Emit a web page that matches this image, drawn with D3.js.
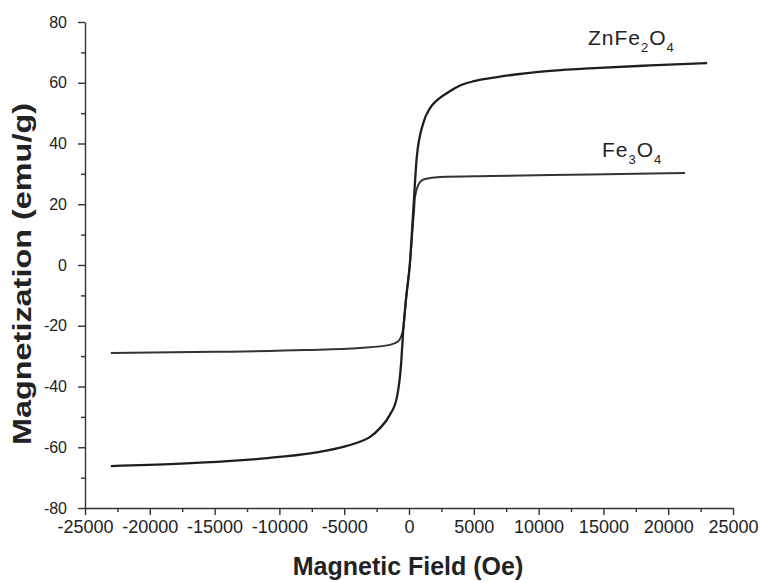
<!DOCTYPE html>
<html>
<head>
<meta charset="utf-8">
<script src="https://cdn.jsdelivr.net/npm/d3@7"></script>
<style>
  body { margin: 0; background: #fff; }
  svg { display: block; }
  text { font-family: Arial, "Liberation Sans", sans-serif; fill: #222; }
</style>
</head>
<body>
<svg id="chart" width="764" height="582"></svg>
<script>
// field (Oe) and magnetization (emu/g)
const fieldZn = [-23000, -18000, -14000, -10000, -7000, -5000, -3800, -3000, -2240, -1500, -930, -600, -460, -200, 60, 330, 600, 1100, 1600, 2150, 3000, 3900, 5000, 7000, 10900, 14700, 18600, 23000];
const magZn   = [-66.2, -65.5, -64.6, -63.2, -61.6, -59.8, -58.2, -56.6, -53.7, -49.5, -43.5, -32, -22.4, -10, 0, 18, 35.5, 46.7, 51.5, 54.2, 56.8, 59, 60.5, 62, 63.9, 64.9, 65.7, 66.5];

const fieldFe = [-23000, -15000, -8000, -3800, -1470, -850, -620, -460, -200, 60, 330, 390, 460, 850, 1230, 2400, 6250, 14000, 21300];
const magFe   = [-29, -28.6, -28, -27.3, -26.3, -25.2, -23.7, -21.4, -10, 0, 15, 18, 22.4, 27.3, 28.3, 29, 29.3, 29.8, 30.3];

const xTicks = [-25000, -20000, -15000, -10000, -5000, 0, 5000, 10000, 15000, 20000, 25000];
const xMinor = [-22500, -17500, -12500, -7500, -2500, 2500, 7500, 12500, 17500, 22500];
const yTicks = [-80, -60, -40, -20, 0, 20, 40, 60, 80];
const yMinor = [-70, -50, -30, -10, 10, 30, 50, 70];

const svg = d3.select('#chart');

const x = d3.scaleLinear().domain([-25000, 25000]).range([85, 733]);
const y = d3.scaleLinear().domain([-80, 80]).range([508, 22]);

// minor ticks first, then the major axes on top
svg.append('g')
    .attr('transform', 'translate(0,508)')
    .call(d3.axisBottom(x).tickValues(xMinor).tickSize(4).tickFormat(''))
    .call(g => g.select('.domain').remove());
svg.append('g')
    .attr('transform', 'translate(85,0)')
    .call(d3.axisLeft(y).tickValues(yMinor).tickSize(4).tickFormat(''))
    .call(g => g.select('.domain').remove());

const xAxis = svg.append('g')
    .attr('transform', 'translate(0,508)')
    .call(d3.axisBottom(x).tickValues(xTicks).tickSize(7).tickSizeOuter(0).tickPadding(5)
        .tickFormat(d => String(d)));
const yAxis = svg.append('g')
    .attr('transform', 'translate(85,0)')
    .call(d3.axisLeft(y).tickValues(yTicks).tickSize(7).tickSizeOuter(0).tickPadding(11)
        .tickFormat(d => String(d)));

svg.selectAll('.tick line, .domain').attr('stroke', '#333').attr('stroke-width', 1.4);
xAxis.selectAll('text').style('font-size', '18px').attr('fill', '#333');
yAxis.selectAll('text').style('font-size', '16px').attr('fill', '#333');

// curves
const line = d3.line()
    .x(d => x(d[0]))
    .y(d => y(d[1]))
    .curve(d3.curveMonotoneX);

svg.append('path')
    .datum(d3.zip(fieldFe, magFe))
    .attr('d', line)
    .attr('fill', 'none')
    .attr('stroke', '#333')
    .attr('stroke-width', 2);

svg.append('path')
    .datum(d3.zip(fieldZn, magZn))
    .attr('d', line)
    .attr('fill', 'none')
    .attr('stroke', '#1e1e1e')
    .attr('stroke-width', 2.3);

// curve labels with subscripts
function formula(parts, px, py) {
    const t = svg.append('text')
        .attr('x', px)
        .attr('y', py)
        .style('font-size', '21px')
        .style('letter-spacing', '1px')
        .attr('fill', '#333');
    parts.forEach((p, i) => {
        t.append('tspan')
            .text(p[0])
            .style('font-size', p[1] ? '13px' : '21px')
            .attr('dy', p[1] ? 7 : (i > 0 ? -7 : 0));
    });
}
formula([['ZnFe', 0], ['2', 1], ['O', 0], ['4', 1]], 588, 45);
formula([['Fe', 0], ['3', 1], ['O', 0], ['4', 1]], 602, 157);

// axis titles
svg.append('text')
    .attr('x', 408)
    .attr('y', 575)
    .attr('text-anchor', 'middle')
    .style('font-size', '25px')
    .style('font-weight', 'bold')
    .text('Magnetic Field (Oe)');

svg.append('text')
    .attr('transform', 'translate(31,274) rotate(-90)')
    .attr('text-anchor', 'middle')
    .attr('textLength', 342)
    .attr('lengthAdjust', 'spacingAndGlyphs')
    .style('font-size', '25px')
    .style('font-weight', 'bold')
    .text('Magnetization (emu/g)');
</script>
</body>
</html>
